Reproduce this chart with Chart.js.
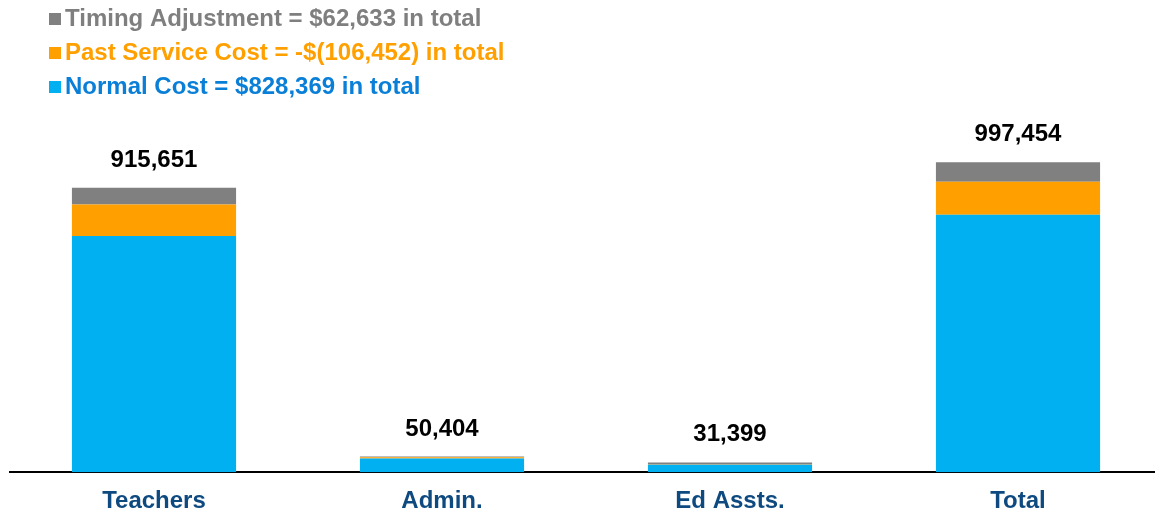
<!DOCTYPE html>
<html>
<head>
<meta charset="utf-8">
<script src="https://cdn.jsdelivr.net/npm/chart.js@4.4.1/dist/chart.umd.min.js"></script>
<style>
  html, body { margin: 0; padding: 0; background: #fff; overflow: hidden; height: 512px; }
  canvas { display: block; }
</style>
</head>
<body>
<canvas id="cost-chart" width="1165" height="531"></canvas>
<script>
// ── Data ──────────────────────────────────────────────────────────────────────
const categories   = ['Teachers', 'Admin.', 'Ed Assts.', 'Total'];
const normalCost   = [760369, 44000, 24000, 828369];
const pastService  = [101452, 4000, 1000, 106452];
const timingAdj    = [53830, 2404, 6399, 62633];
const totalLabels  = ['915,651', '50,404', '31,399', '997,454'];
const legendLabels = [
  'Timing Adjustment = $62,633 in total',
  'Past Service Cost = -$(106,452) in total',
  'Normal Cost = $828,369 in total'
];

const FONT = '"Liberation Sans", Arial, sans-serif';
const BLUE = '#00B0F0', ORANGE = '#FFA000', GREY = '#808080';
const legendBox  = [GREY, ORANGE, BLUE];
const legendText = ['#7F7F7F', '#FFA000', '#0A7FD8'];

// totals above each stack
const totalsPlugin = {
  id: 'totals',
  afterDatasetsDraw(chart) {
    const { ctx } = chart;
    const top = chart.getDatasetMeta(2).data;
    ctx.save();
    ctx.font = `bold 24px ${FONT}`;
    ctx.fillStyle = '#000';
    ctx.textAlign = 'center';
    ctx.textBaseline = 'alphabetic';
    top.forEach((bar, i) => ctx.fillText(totalLabels[i], bar.x, bar.y - 21));
    ctx.restore();
  }
};

// stacked legend, one item per line, coloured text
const legendPlugin = {
  id: 'stackLegend',
  afterDraw(chart) {
    const { ctx } = chart;
    ctx.save();
    ctx.font = `bold 24px ${FONT}`;
    ctx.textBaseline = 'alphabetic';
    legendLabels.forEach((txt, i) => {
      const y = 26 + i * 34;
      ctx.fillStyle = legendBox[i];
      ctx.fillRect(49, y - 13, 12, 12);
      ctx.fillStyle = legendText[i];
      ctx.fillText(txt, 65, y);
    });
    ctx.restore();
  }
};

new Chart(document.getElementById('cost-chart'), {
  type: 'bar',
  data: {
    labels: categories,
    datasets: [
      { label: 'Normal Cost',       data: normalCost,  backgroundColor: BLUE },
      { label: 'Past Service Cost', data: pastService, backgroundColor: ORANGE },
      { label: 'Timing Adjustment', data: timingAdj,   backgroundColor: GREY }
    ]
  },
  options: {
    responsive: false, animation: false,
    barPercentage: 0.57, categoryPercentage: 1,
    layout: { padding: { left: 10, right: 3, top: 146, bottom: 0 } },
    plugins: { legend: { display: false }, tooltip: { enabled: false } },
    scales: {
      x: {
        stacked: true,
        grid: { display: false, drawTicks: false },
        border: { display: true, color: '#000', width: 2 },
        ticks: { color: '#0E4A80', padding: 15, font: { family: FONT, size: 24, weight: 'bold' } }
      },
      y: {
        stacked: true, display: false, min: 0, max: 1050000
      }
    }
  },
  plugins: [totalsPlugin, legendPlugin]
});
</script>
</body>
</html>
